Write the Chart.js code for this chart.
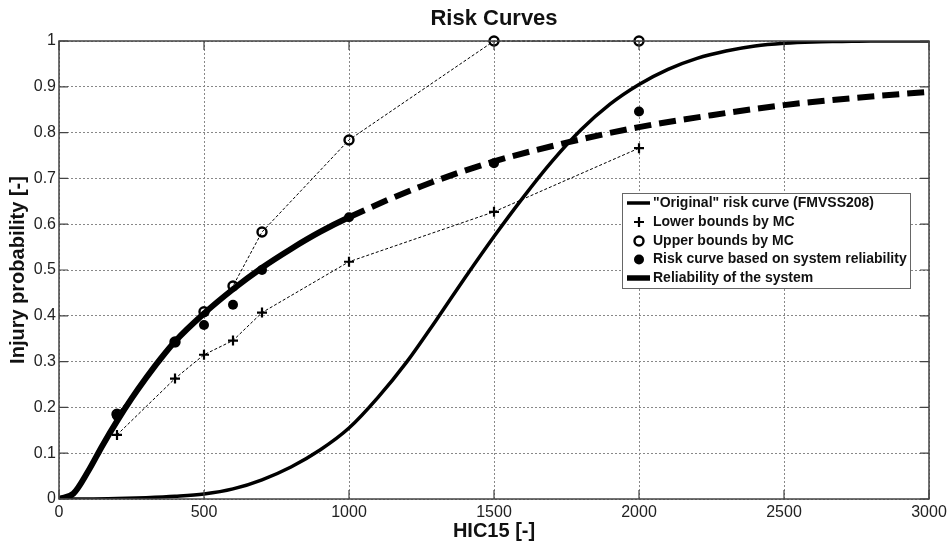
<!DOCTYPE html>
<html>
<head>
<meta charset="utf-8">
<script src="https://cdn.jsdelivr.net/npm/chart.js@4.4.1/dist/chart.umd.min.js"></script>
<style>
  html, body { margin: 0; padding: 0; background: #fff; }
  #wrap { width: 950px; height: 544px; }
</style>
</head>
<body>
<div id="wrap"><canvas id="myChart" width="950" height="544"></canvas></div>
<script>
// values
let xTicks = [0, 500, 1000, 1500, 2000, 2500, 3000];
let xTickLabels = ['0', '500', '1000', '1500', '2000', '2500', '3000'];
let yTickLabels = ['0', '0.1', '0.2', '0.3', '0.4', '0.5', '0.6', '0.7', '0.8', '0.9', '1'];

let origHic = [0, 100, 200, 300, 400, 500, 600, 700, 800, 900, 1000, 1100, 1200, 1300, 1400, 1500,
               1600, 1700, 1800, 1900, 2000, 2100, 2200, 2300, 2400, 2500, 2600, 2700, 2800, 2900, 3000];
let origRisk = [0, 0, 0.001, 0.003, 0.006, 0.011, 0.022, 0.042, 0.07, 0.107, 0.155, 0.222, 0.3, 0.39, 0.483, 0.573,
                0.658, 0.737, 0.806, 0.862, 0.905, 0.938, 0.962, 0.978, 0.989, 0.995, 0.998, 0.999, 1, 1, 1];

let relHic = [0, 50, 100, 150, 200, 250, 300, 350, 400, 500, 600, 700, 800, 900, 1000,
              1250, 1500, 1750, 2000, 2250, 2500, 2750, 3000];
let relRisk = [0, 0.012, 0.06, 0.117, 0.17, 0.219, 0.264, 0.306, 0.344, 0.405, 0.458, 0.505, 0.546, 0.583, 0.615,
               0.683, 0.737, 0.778, 0.812, 0.838, 0.86, 0.876, 0.889];

let mcHic = [200, 400, 500, 600, 700, 1000, 1500, 2000];
let lowerMC = [0.14, 0.263, 0.315, 0.346, 0.407, 0.518, 0.627, 0.766];
let upperMC = [0.185, 0.343, 0.409, 0.465, 0.583, 0.784, 1, 1];
let systemRisk = [0.182, 0.342, 0.38, 0.424, 0.5, 0.615, 0.733, 0.846];

let legendLabels = ['"Original" risk curve (FMVSS208)', 'Lower bounds by MC', 'Upper bounds by MC',
                    'Risk curve based on system reliability', 'Reliability of the system'];

function pts(xs, ys) {
    return xs.map((x, i) => ({ x: x, y: ys[i] }));
}

const FONT = '"Liberation Sans", Arial, sans-serif';

// box, inner ticks, title and legend drawn like the matlab figure
var framePlugin = {
    id: 'frame',
    afterDraw: function (chart) {
        let ctx = chart.ctx;
        let a = chart.chartArea;
        let xs = chart.scales.x, ys = chart.scales.y;
        ctx.save();
        ctx.strokeStyle = '#444';
        ctx.lineWidth = 1.5;
        ctx.strokeRect(a.left, a.top, a.right - a.left, a.bottom - a.top);
        ctx.lineWidth = 1.2;
        ctx.beginPath();
        xs.ticks.forEach(t => {
            let px = xs.getPixelForValue(t.value);
            ctx.moveTo(px, a.bottom); ctx.lineTo(px, a.bottom - 9);
            ctx.moveTo(px, a.top); ctx.lineTo(px, a.top + 9);
        });
        ys.ticks.forEach(t => {
            let py = ys.getPixelForValue(t.value);
            ctx.moveTo(a.left, py); ctx.lineTo(a.left + 9, py);
            ctx.moveTo(a.right, py); ctx.lineTo(a.right - 9, py);
        });
        ctx.stroke();

        // title
        ctx.fillStyle = '#111';
        ctx.font = 'bold 22px ' + FONT;
        ctx.textAlign = 'center';
        ctx.textBaseline = 'middle';
        ctx.fillText('Risk Curves', (a.left + a.right) / 2, 19);

        // legend
        let lx = 622, ly = 193, lw = 288, lh = 95;
        ctx.fillStyle = '#fff';
        ctx.fillRect(lx, ly, lw, lh);
        ctx.strokeStyle = '#666';
        ctx.lineWidth = 1;
        ctx.strokeRect(lx + 0.5, ly + 0.5, lw, lh);
        let rows = [203, 222, 241, 259.5, 278];
        ctx.strokeStyle = '#000';
        ctx.fillStyle = '#000';
        // row 1: solid line
        ctx.lineWidth = 3.5;
        ctx.beginPath(); ctx.moveTo(627, rows[0]); ctx.lineTo(650, rows[0]); ctx.stroke();
        // row 2: plus
        ctx.lineWidth = 2.2;
        ctx.beginPath();
        ctx.moveTo(634, rows[1]); ctx.lineTo(644, rows[1]);
        ctx.moveTo(639, rows[1] - 5); ctx.lineTo(639, rows[1] + 5);
        ctx.stroke();
        // row 3: open circle
        ctx.lineWidth = 2.4;
        ctx.beginPath(); ctx.arc(639, rows[2], 4.5, 0, Math.PI * 2); ctx.stroke();
        // row 4: dot
        ctx.beginPath(); ctx.arc(639, rows[3], 5, 0, Math.PI * 2); ctx.fill();
        // row 5: thick line
        ctx.lineWidth = 5.5;
        ctx.beginPath(); ctx.moveTo(627, rows[4]); ctx.lineTo(650, rows[4]); ctx.stroke();

        ctx.font = 'bold 14px ' + FONT;
        ctx.textAlign = 'left';
        ctx.fillStyle = '#111';
        legendLabels.forEach((s, i) => ctx.fillText(s, 653, rows[i]));
        ctx.restore();
    }
};
Chart.register(framePlugin);

let ctx = document.getElementById('myChart').getContext('2d');

let data = {
    datasets: [
        {
            label: legendLabels[0],
            data: pts(origHic, origRisk),
            borderColor: '#000',
            borderWidth: 3.5,
            pointRadius: 0,
            cubicInterpolationMode: 'monotone',
            order: 3
        },
        {
            label: legendLabels[1],
            data: pts(mcHic, lowerMC),
            borderColor: '#000',
            backgroundColor: '#000',
            borderWidth: 1,
            borderDash: [3, 2],
            pointStyle: 'cross',
            pointRadius: 5,
            pointBorderWidth: 2.2,
            clip: false,
            order: 2
        },
        {
            label: legendLabels[2],
            data: pts(mcHic, upperMC),
            borderColor: '#000',
            backgroundColor: 'rgba(0,0,0,0)',
            borderWidth: 1,
            borderDash: [3, 2],
            pointStyle: 'circle',
            pointRadius: 4.5,
            pointBorderWidth: 2.4,
            clip: false,
            order: 1
        },
        {
            label: legendLabels[3],
            data: pts(mcHic, systemRisk),
            borderColor: '#000',
            backgroundColor: '#000',
            showLine: false,
            pointStyle: 'circle',
            pointRadius: 5,
            pointBorderWidth: 0,
            clip: false,
            order: 0
        },
        {
            label: legendLabels[4],
            data: pts(relHic, relRisk),
            borderColor: '#000',
            borderWidth: 6,
            borderCapStyle: 'butt',
            pointRadius: 0,
            cubicInterpolationMode: 'monotone',
            segment: {
                borderDash: c => c.p0.parsed.x >= 1000 ? [17, 8] : undefined
            },
            order: 4
        }
    ]
};

let options = {
    responsive: false,
    animation: false,
    layout: { padding: { top: 41, right: 21, bottom: 0, left: 0 } },
    plugins: {
        legend: { display: false },
        title: { display: false },
        tooltip: { enabled: false }
    },
    scales: {
        x: {
            type: 'linear',
            min: 0,
            max: 3000,
            afterBuildTicks: s => { s.ticks = xTicks.map(v => ({ value: v })); },
            afterFit: s => { s.height = 45; s.paddingLeft = 0; s.paddingRight = 0; },
            border: { display: false, dash: [2, 2] },
            grid: { color: '#888', lineWidth: 1, drawTicks: false },
            ticks: {
                color: '#222', padding: 4, font: { family: FONT, size: 16 },
                callback: (v, i) => xTickLabels[i]
            },
            title: {
                display: true, text: 'HIC15 [-]', color: '#111',
                font: { family: FONT, size: 20, weight: 'bold' },
                padding: { top: 0, bottom: 1 }
            }
        },
        y: {
            type: 'linear',
            min: 0,
            max: 1,
            afterBuildTicks: s => { s.ticks = yTickLabels.map((t, i) => ({ value: i / 10 })); },
            afterFit: s => { s.width = 59; s.paddingTop = 0; s.paddingBottom = 0; },
            border: { display: false, dash: [2, 2] },
            grid: { color: '#888', lineWidth: 1, drawTicks: false },
            ticks: {
                color: '#222', padding: 3, font: { family: FONT, size: 16 },
                callback: (v, i) => yTickLabels[i]
            },
            title: {
                display: true, text: 'Injury probability [-]', color: '#111',
                font: { family: FONT, size: 20, weight: 'bold' },
                padding: { top: 6, bottom: 0 }
            }
        }
    }
};

let myChart = new Chart(ctx, {
    type: 'line',
    data: data,
    options: options
});
</script>
</body>
</html>
